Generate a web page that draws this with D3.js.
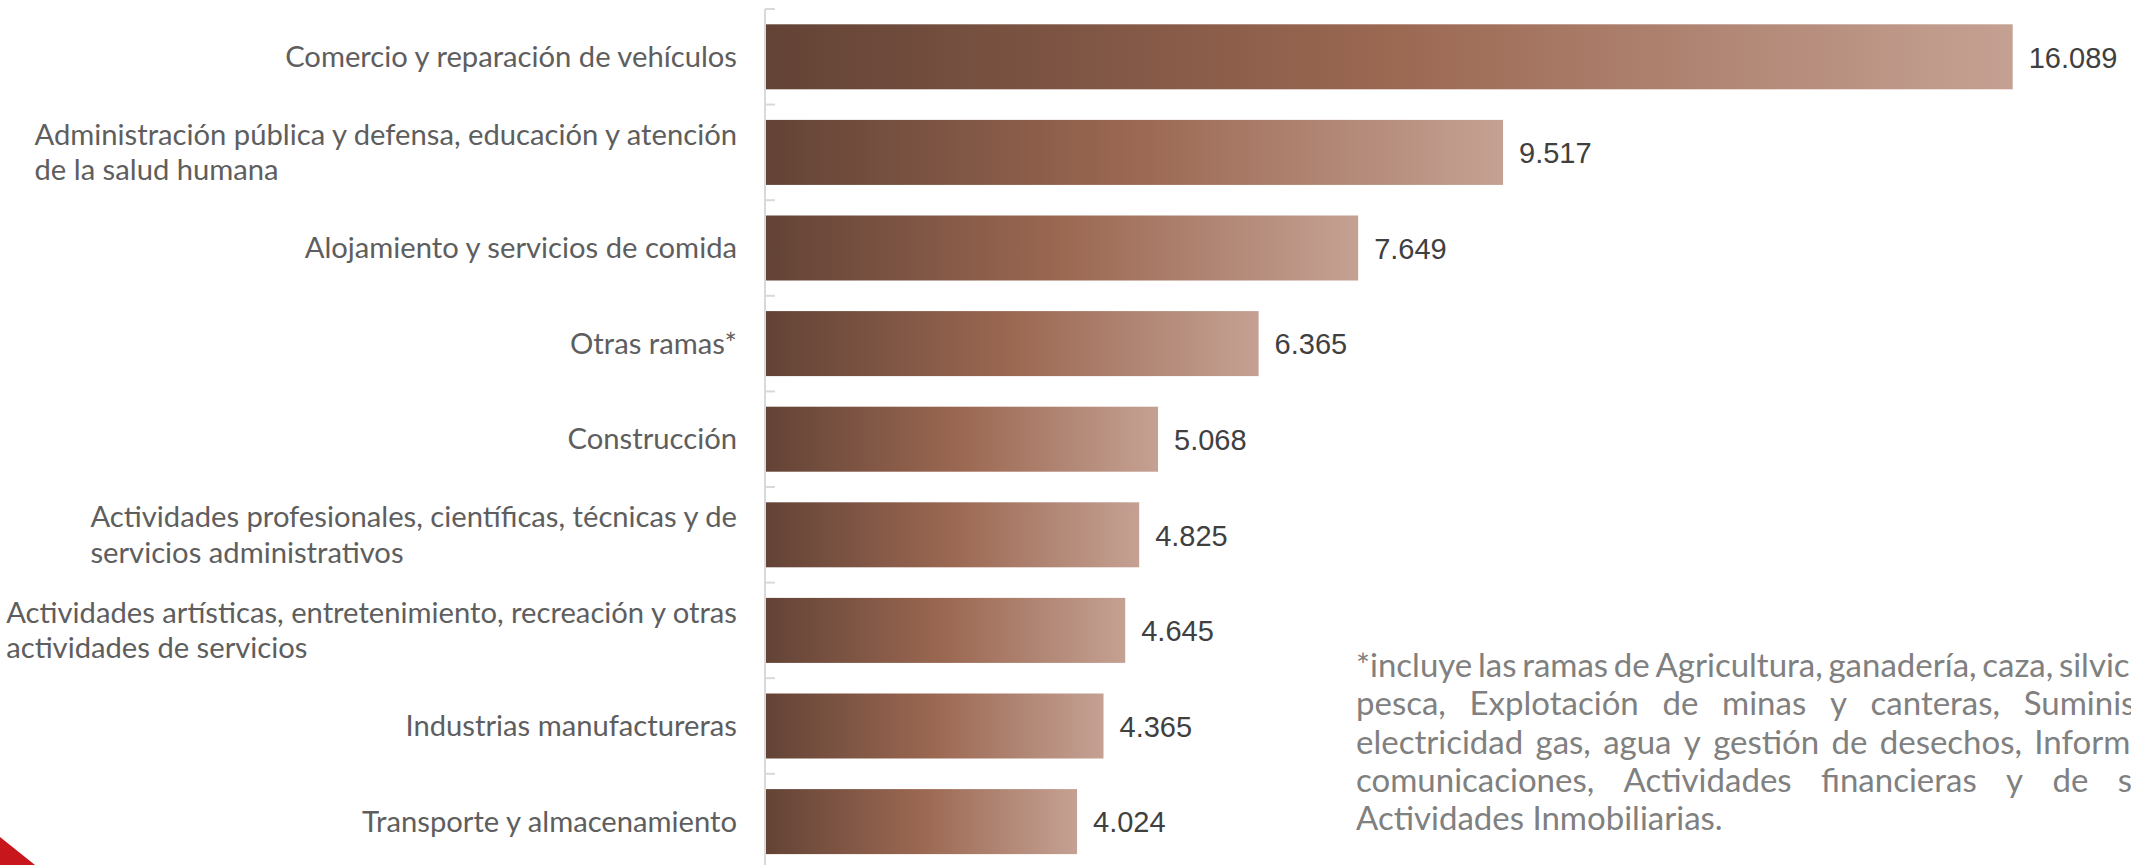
<!DOCTYPE html>
<html>
<head>
<meta charset="utf-8">
<script src="https://cdn.jsdelivr.net/npm/d3@7"></script>
<style>
  html, body { margin: 0; padding: 0; background: #fff; overflow: hidden; }
  svg { display: block; }
</style>
</head>
<body>
<svg id="chart" width="2131" height="865"></svg>
<script>
// Ocupados por rama de actividad (miles)
const categories = [
  ['Comercio y reparación de vehículos'],
  ['Administración pública y defensa, educación y atención', 'de la salud humana'],
  ['Alojamiento y servicios de comida'],
  ['Otras ramas*'],
  ['Construcción'],
  ['Actividades profesionales, científicas, técnicas y de', 'servicios administrativos'],
  ['Actividades artísticas, entretenimiento, recreación y otras', 'actividades de servicios'],
  ['Industrias manufactureras'],
  ['Transporte y almacenamiento']
];
const values = [16089, 9517, 7649, 6365, 5068, 4825, 4645, 4365, 4024];

const footnoteLines = [
  '*incluye las ramas de Agricultura, ganadería, caza, silvicultura y',
  'pesca, Explotación de minas y canteras, Suministro de',
  'electricidad gas, agua y gestión de desechos, Información y',
  'comunicaciones, Actividades financieras y de seguros,',
  'Actividades Inmobiliarias.'
];

const palette = {
  label: '#5e5e5e',
  value: '#404040',
  note: '#808080',
  axis: '#d9d9d9',
  accent: '#c8161d',
  labelFont: 'Lato, "Open Sans", sans-serif',
  valueFont: '"Liberation Sans", Arial, sans-serif'
};

const W = 2131, H = 865;
const svg = d3.select('#chart');
const fmt = d3.formatLocale({ decimal: ',', thousands: '.', grouping: [3], currency: ['', ''] }).format(',');

const x = d3.scaleLinear().domain([0, 18000]).range([765, 2160.9]);
const y = d3.scaleBand()
  .domain(d3.range(values.length))
  .range([9, 869.4])
  .paddingInner(0.32)
  .paddingOuter(0.16);

const defs = svg.append('defs');
const grad = defs.append('linearGradient')
  .attr('id', 'barGrad')
  .attr('x1', '0%').attr('x2', '100%').attr('y1', '0%').attr('y2', '0%');
grad.append('stop').attr('offset', '0%').attr('stop-color', '#634336');
grad.append('stop').attr('offset', '50%').attr('stop-color', '#9b6852');
grad.append('stop').attr('offset', '100%').attr('stop-color', '#c5a193');

// decorative corner
svg.append('path')
  .attr('d', `M0,${H - 28}L35,${H}L0,${H}Z`)
  .style('fill', palette.accent);

// axis spine + band ticks
const axisG = svg.append('g');
const half = y.step() * y.paddingInner() / 2;
axisG.append('line')
  .attr('x1', x(0)).attr('x2', x(0))
  .attr('y1', y(0) - y.step() * y.paddingOuter()).attr('y2', H)
  .style('stroke', palette.axis).style('stroke-width', 2);
d3.range(values.length + 1).forEach(i => {
  const yy = i < values.length ? y(i) - half : y(values.length - 1) + y.bandwidth() + half;
  axisG.append('line')
    .attr('x1', x(0)).attr('x2', x(0) + 10)
    .attr('y1', yy).attr('y2', yy)
    .style('stroke', palette.axis).style('stroke-width', 2);
});

// bars
svg.append('g').selectAll('rect')
  .data(values)
  .join('rect')
  .attr('x', x(0) + 1)
  .attr('y', (d, i) => y(i))
  .attr('width', d => x(d) - x(0) - 1)
  .attr('height', y.bandwidth())
  .style('fill', 'url(#barGrad)');

// value labels
svg.append('g').selectAll('text')
  .data(values)
  .join('text')
  .attr('x', d => x(d) + 16)
  .attr('y', (d, i) => y(i) + y.bandwidth() / 2)
  .attr('dy', '0.37em')
  .style('font-family', palette.valueFont)
  .style('font-size', '29px')
  .style('fill', palette.value)
  .text(d => fmt(d));

// category labels: block right-aligned to the axis, lines left-aligned inside
const LABEL_RIGHT = 737, LINE_H = 35.2;
const labelG = svg.append('g');
categories.forEach((lines, i) => {
  const g = labelG.append('g');
  const cy = y(i) + y.bandwidth() / 2;
  lines.forEach((t, j) => {
    g.append('text')
      .attr('x', 0)
      .attr('y', cy + (j - (lines.length - 1) / 2) * LINE_H)
      .attr('dy', '0.35em')
      .style('font-family', palette.labelFont)
      .style('font-size', '29.2px')
      .style('fill', palette.label)
      .text(t);
  });
  const w = d3.max(g.selectAll('text').nodes(), n => n.getComputedTextLength());
  g.attr('transform', `translate(${Math.max(4, LABEL_RIGHT - w)},0)`);
});

// footnote, justified except the last line (runs off the right edge, as in the slide)
const NOTE_X = 1356, NOTE_Y = 677, NOTE_LH = 38.3, NOTE_FS = 33;
const noteG = svg.append('g')
  .style('font-family', palette.labelFont)
  .style('font-size', `${NOTE_FS}px`)
  .style('fill', palette.note);
const probe = noteG.append('text').text(footnoteLines[0]);
const NOTE_W = probe.node().getComputedTextLength() - 20;
probe.remove();
footnoteLines.forEach((line, i) => {
  const yy = NOTE_Y + i * NOTE_LH;
  const words = line.split(' ');
  if (i === footnoteLines.length - 1) {
    noteG.append('text').attr('x', NOTE_X).attr('y', yy).text(line);
    return;
  }
  const nodes = words.map(wd => noteG.append('text').attr('y', yy).text(wd));
  const widths = nodes.map(n => n.node().getComputedTextLength());
  const gap = (NOTE_W - d3.sum(widths)) / (words.length - 1);
  let cx = NOTE_X;
  nodes.forEach((n, k) => { n.attr('x', cx); cx += widths[k] + gap; });
});
</script>
</body>
</html>
